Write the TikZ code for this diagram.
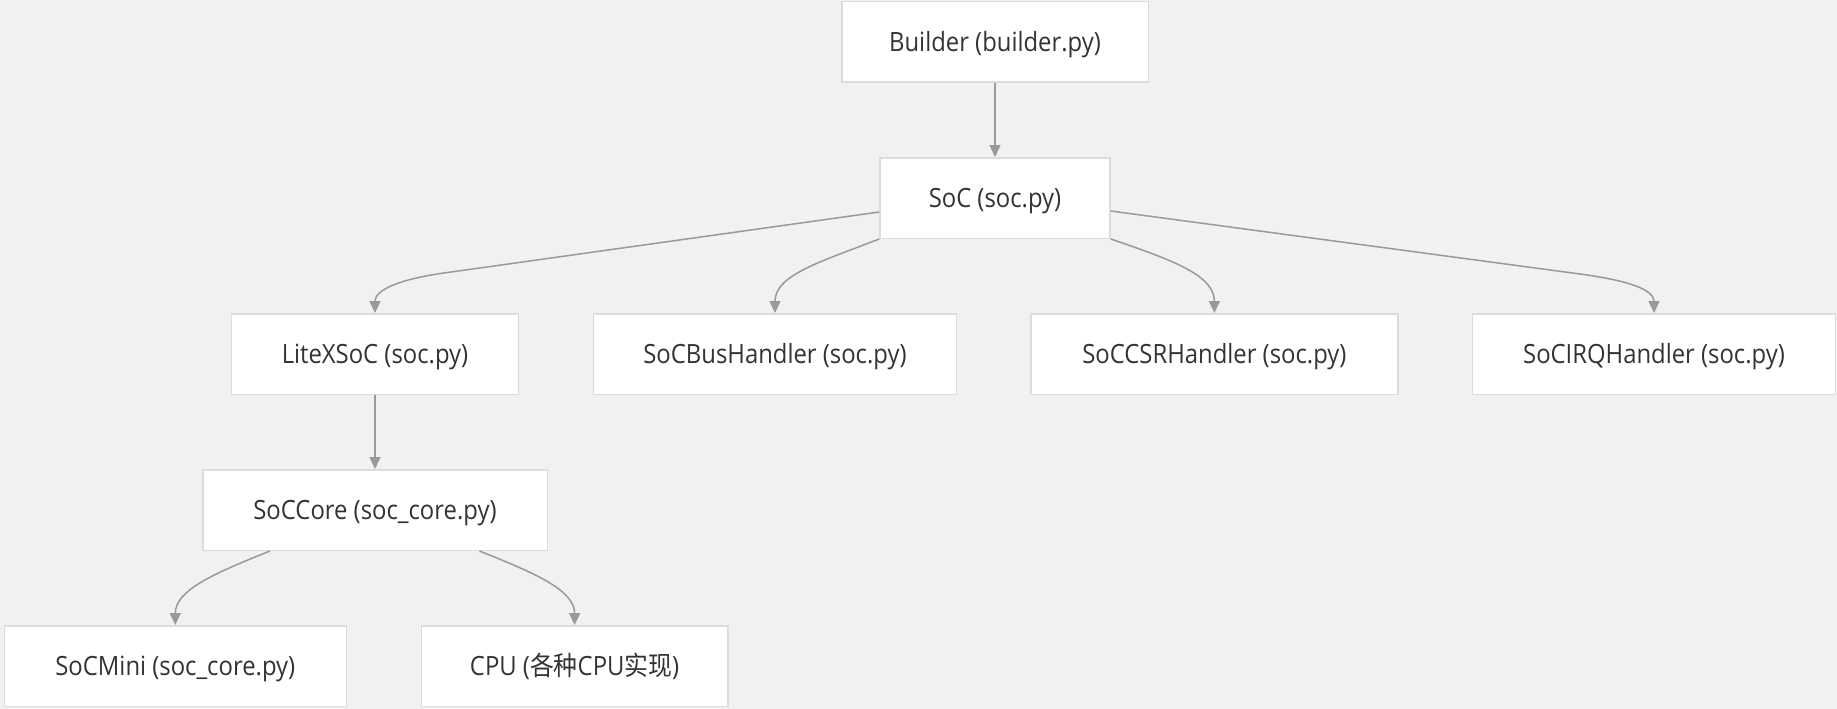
\documentclass[tikz,border=0pt]{standalone}
\usepackage{fontspec}
\setmainfont{Open Sans}[FakeStretch=0.9]
\newfontfamily\cjk{Noto Sans CJK SC}[FakeStretch=0.9]
\usetikzlibrary{arrows.meta}
\definecolor{bgc}{RGB}{242,241,240}
\definecolor{boxborder}{RGB}{220,220,220}
\definecolor{edgec}{RGB}{153,153,153}
\definecolor{txtc}{RGB}{51,51,51}
\tikzset{
  mbox/.style={draw=boxborder, line width=1.5pt, fill=white, rectangle,
    minimum height=80.5pt, inner sep=0pt, text=txtc,
    text height=20pt, text depth=1.1pt,
    font=\fontsize{26.5pt}{30pt}\selectfont},
  conn/.style={draw=edgec, line width=1.5pt,
    -{Triangle[length=12pt,width=11pt]}, fill=none},
}
\begin{document}
\begin{tikzpicture}[x=1pt,y=-1pt]
\fill[bgc] (0,0) rectangle (1837,709);
\useasboundingbox (0,0) rectangle (1837,709);

\node[mbox, minimum width=306.5pt] (builder) at (995,42) {Builder (builder.py)};
\node[mbox, minimum width=230pt] (soc) at (995,198) {SoC (soc.py)};
\node[mbox, minimum width=287pt] (litex) at (375,354) {LiteXSoC (soc.py)};
\node[mbox, minimum width=363.4pt] (bus) at (775,354) {SoCBusHandler (soc.py)};
\node[mbox, minimum width=366.8pt] (csr) at (1214.4,354) {SoCCSRHandler (soc.py)};
\node[mbox, minimum width=363pt] (irq) at (1654,354) {SoCIRQHandler (soc.py)};
\node[mbox, minimum width=344.5pt] (core) at (375,510) {SoCCore (soc\_core.py)};
\node[mbox, minimum width=342pt] (mini) at (175.3,666) {SoCMini (soc\_core.py)};
\node[mbox, minimum width=306.7pt] (cpu) at (574.6,666) {CPU ({\cjk 各种}CPU{\cjk 实现})};

\coordinate (socL) at ([yshift=-14pt]soc.west);
\coordinate (socR) at ([yshift=-13pt]soc.east);
\coordinate (litexbend) at (444,273);
\coordinate (irqbend) at (1580,274);
\coordinate (coreL) at ([xshift=-105pt]core.south);
\coordinate (coreR) at ([xshift=104.5pt]core.south);

\draw[conn] (builder.south) -- (soc.north);
\draw[conn] (socL) -- (litexbend) .. controls (399,279.3) and (375,290) .. (litex.north);
\draw[conn] (soc.south west) .. controls (820,262) and (775,275) .. (bus.north);
\draw[conn] (soc.south east) .. controls (1172,260) and (1214.4,275) .. (csr.north);
\draw[conn] (socR) -- (irqbend) .. controls (1630,280.7) and (1654,290) .. (irq.north);
\draw[conn] (litex.south) -- (core.north);
\draw[conn] (coreL) .. controls (215,573) and (175.3,590) .. (mini.north);
\draw[conn] (coreR) .. controls (534.5,573) and (574.6,590) .. (cpu.north);
\end{tikzpicture}
\end{document}
